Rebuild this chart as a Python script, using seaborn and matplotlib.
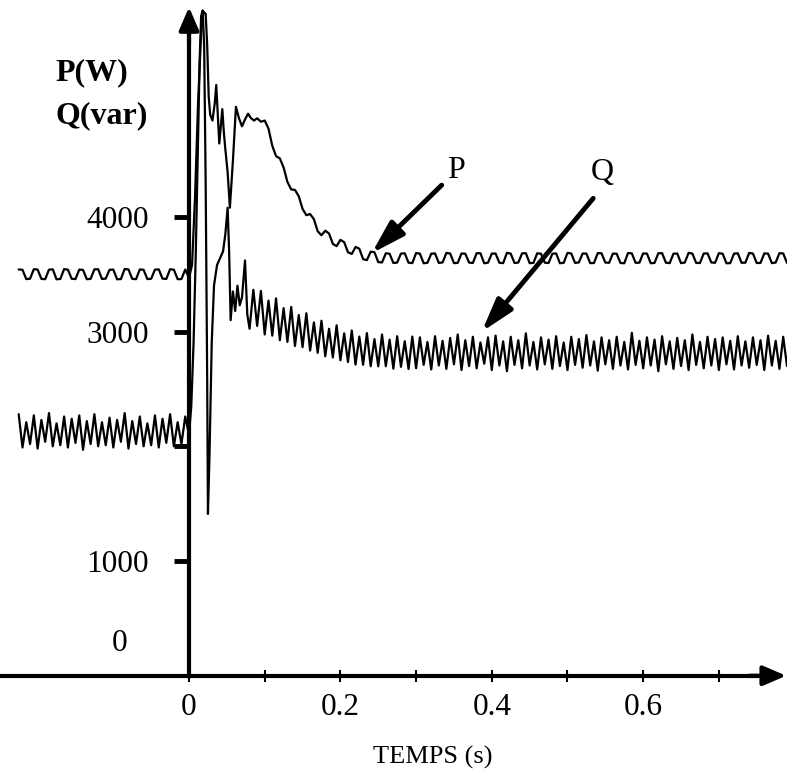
import numpy as np
import pandas as pd
import matplotlib
matplotlib.use("Agg")
import matplotlib.pyplot as plt
from matplotlib.patches import ArrowStyle
import seaborn as sns

# pas d'echantillonnage des parties "regime etabli" (s)
STEP = 0.005

# ---- P (W) ----
# avant le defaut : -0.225 s ... -0.005 s
p_pre_t0 = -0.225
p_pre = [3542, 3539, 3458, 3461, 3544, 3541, 3460, 3457, 3540, 3543, 3456, 3459,
         3545, 3540, 3461, 3458, 3541, 3538, 3457, 3460, 3543, 3544, 3459, 3462,
         3539, 3541, 3456, 3458, 3546, 3542, 3460, 3457, 3542, 3539, 3458, 3461,
         3540, 3543, 3462, 3459, 3544, 3540, 3457, 3458, 3541]
# transitoire
p_tr_t = [0.000, 0.004, 0.008, 0.012, 0.016, 0.019, 0.022, 0.024, 0.026, 0.028,
          0.031, 0.034, 0.036, 0.038, 0.040, 0.042, 0.044, 0.046, 0.048, 0.051,
          0.054, 0.058, 0.062, 0.066, 0.070, 0.074, 0.078, 0.082, 0.086, 0.090, 0.095]
p_tr = [3470, 3580, 4180, 5000, 5600, 5790, 5770, 5500, 5050, 4890,
        4840, 4990, 5150, 4890, 4640, 4790, 4940, 4740, 4590, 4390,
        4080, 4490, 4960, 4860, 4790, 4850, 4900, 4860, 4840, 4860, 4830]
# retour au regime etabli : 0.100 s ... 0.790 s
p_post_t0 = 0.100
p_post = [4840, 4770, 4620, 4530, 4510, 4430, 4305, 4240, 4235, 4180, 4070, 4015,
          4025, 3980, 3875, 3840, 3880, 3855, 3765, 3745, 3800, 3780, 3692, 3677,
          3738, 3723, 3632, 3623, 3697, 3692, 3606, 3603,
          3683, 3679, 3598, 3602, 3680, 3683, 3601, 3597, 3685, 3680, 3596, 3600,
          3679, 3682, 3599, 3603, 3686, 3681, 3597, 3599, 3681, 3679, 3602, 3598,
          3684, 3683, 3596, 3601, 3680, 3681, 3600, 3597, 3687, 3680, 3598, 3602,
          3682, 3684, 3597, 3599, 3683, 3679, 3601, 3598, 3679, 3682, 3596, 3600,
          3686, 3681, 3599, 3603, 3681, 3680, 3597, 3598, 3684, 3683, 3602, 3600,
          3680, 3679, 3598, 3596, 3685, 3682, 3600, 3601, 3682, 3680, 3596, 3599,
          3683, 3684, 3601, 3597, 3679, 3681, 3597, 3602, 3687, 3680, 3599, 3598,
          3681, 3682, 3603, 3600, 3684, 3679, 3596, 3597, 3680, 3683, 3600, 3601,
          3686, 3681, 3598, 3599, 3682, 3680, 3597, 3602, 3684, 3681, 3599]

# ---- Q (var) ----
q_pre_t0 = -0.225
q_pre = [2280, 1990, 2210, 2020, 2270, 1980, 2230, 2040, 2290, 2000, 2200, 2010,
         2260, 1990, 2240, 2030, 2270, 1970, 2220, 2020, 2280, 2000, 2210, 2010,
         2250, 1990, 2230, 2040, 2290, 1980, 2220, 2020, 2260, 2000, 2200, 2010,
         2270, 1990, 2240, 2030, 2280, 2000, 2210, 2020, 2260]
q_tr_t = [0.000, 0.003, 0.006, 0.009, 0.012, 0.014, 0.016, 0.018, 0.020, 0.022,
          0.024, 0.025, 0.027, 0.030, 0.033, 0.037, 0.041, 0.045, 0.048, 0.051,
          0.053, 0.055, 0.058, 0.061, 0.064, 0.067, 0.070, 0.074, 0.077]
q_tr = [2100, 2350, 2900, 3700, 4700, 5350, 5750, 5800, 5500, 4300,
        2600, 1410, 1900, 2900, 3400, 3580, 3640, 3700, 3850, 4080,
        3700, 3100, 3350, 3180, 3400, 3230, 3300, 3620, 3150]
q_post_t0 = 0.080
q_post = [3025, 3365, 3050, 3355, 2975, 3270, 2965, 3290, 2925, 3205, 2910, 3215,
          2875, 3145, 2865, 3160, 2835, 3080, 2815, 3095, 2785, 3025, 2775, 3055,
          2750, 2985, 2735, 3010, 2713, 2957, 2711, 2987, 2698, 2935, 2697, 2975,
          2698, 2930, 2677, 2960, 2693, 2916, 2674, 2957, 2681,
          2950, 2710, 2910, 2670, 2960, 2705, 2920, 2675, 2945, 2715, 2975, 2665,
          2925, 2700, 2955, 2680, 2905, 2720, 2950, 2665, 2965, 2705, 2915, 2655,
          2955, 2710, 2925, 2680, 2985, 2705, 2910, 2670, 2950, 2715, 2930, 2675,
          2960, 2700, 2905, 2665, 2955, 2710, 2935, 2685, 2970, 2705, 2915, 2660,
          2950, 2715, 2925, 2675, 2955, 2705, 2910, 2670, 2990, 2710, 2920, 2680,
          2950, 2705, 2930, 2655, 2960, 2715, 2915, 2675, 2945, 2700, 2925, 2665,
          2975, 2710, 2910, 2680, 2955, 2705, 2935, 2665, 2950, 2715, 2920, 2670,
          2960, 2705, 2915, 2685, 2950, 2710, 2925, 2665, 2965, 2705, 2920, 2675,
          2955, 2700]

xticks = [0, 0.2, 0.4, 0.6]
xtick_labels = ["0", "0.2", "0.4", "0.6"]
xminor = [0.1, 0.3, 0.5, 0.7]
yticks = [1000, 2000, 3000, 4000]
ytick_labels = ["1000", "", "3000", "4000"]


def serie(name, t0_pre, pre, tr_t, tr, t0_post, post):
    t = np.concatenate([t0_pre + STEP * np.arange(len(pre)), tr_t,
                        t0_post + STEP * np.arange(len(post))])
    v = np.concatenate([pre, tr, post])
    return pd.DataFrame({"t": t, "v": v, "serie": name})


df = pd.concat([serie("P", p_pre_t0, p_pre, p_tr_t, p_tr, p_post_t0, p_post),
                serie("Q", q_pre_t0, q_pre, q_tr_t, q_tr, q_post_t0, q_post)],
               ignore_index=True)

sns.set_style("white")
plt.rcParams["font.family"] = ["Liberation Serif", "DejaVu Serif"]
plt.rcParams["text.color"] = "black"

fig = plt.figure(figsize=(7.87, 7.76), dpi=100)
ax = fig.add_axes([0, 0, 1, 1])
ax.set_facecolor("white")

sns.lineplot(data=df, x="t", y="v", hue="serie", palette={"P": "black", "Q": "black"},
             estimator=None, sort=False, legend=False, lw=1.6, ax=ax)

xmin, xmax = -0.2497, 0.790
ax.set_xlim(xmin, xmax)
ax.set_ylim(-874, 5891)
ax.set_xlabel("")
ax.set_ylabel("")

# axes en croix avec fleches
ax.spines[["top", "right"]].set_visible(False)
ax.spines["left"].set_position(("data", 0))
ax.spines["bottom"].set_position(("data", 0))
ax.spines["left"].set_bounds(0, 5600)
ax.spines["bottom"].set_bounds(xmin, 0.77)
for s in ("left", "bottom"):
    ax.spines[s].set_linewidth(3)
    ax.spines[s].set_color("black")

head = ArrowStyle("-|>", head_length=0.7, head_width=0.3)
ax.annotate("", xy=(0, 5830), xytext=(0, 5500),
            arrowprops=dict(arrowstyle=head, mutation_scale=20, lw=3, color="black",
                            shrinkA=0, shrinkB=0))
ax.annotate("", xy=(0.789, 0), xytext=(0.74, 0),
            arrowprops=dict(arrowstyle=head, mutation_scale=20, lw=3, color="black",
                            shrinkA=0, shrinkB=0))

ax.set_xticks(xticks, labels=xtick_labels, fontsize=22.5)
ax.set_xticks(xminor, minor=True)
ax.tick_params(axis="x", which="both", bottom=True, direction="inout", length=8,
               width=1.5, pad=8.5, color="black", labelcolor="black")
ax.set_yticks(yticks, labels=ytick_labels, fontsize=22.5)
ax.tick_params(axis="y", which="major", left=True, direction="out", length=11,
               width=3.5, pad=18, color="black", labelcolor="black")
ax.text(-0.0911, 285, "0", fontsize=22.5, ha="center", va="center")

ax.text(-0.177, 5194, "P(W)", fontsize=23, fontweight="bold", ha="left", va="baseline")
ax.text(-0.177, 4818, "Q(var)", fontsize=23, fontweight="bold", ha="left", va="baseline")

# reperes des courbes
arrow = ArrowStyle("-|>", head_length=1.0, head_width=0.3)
ax.annotate("", xy=(0.2413, 3683), xytext=(0.3338, 4277),
            arrowprops=dict(arrowstyle=arrow, mutation_scale=20, lw=3.5, color="black",
                            shrinkA=0, shrinkB=0))
ax.annotate("", xy=(0.3867, 2999), xytext=(0.534, 4162),
            arrowprops=dict(arrowstyle=arrow, mutation_scale=20, lw=3.5, color="black",
                            shrinkA=0, shrinkB=0))
ax.text(0.3527, 4338, "P", fontsize=23, ha="center", va="baseline")
ax.text(0.5456, 4321, "Q", fontsize=23, ha="center", va="baseline")

fig.text(433 / 787, 1 - 757 / 776, "TEMPS (s)", fontsize=19, ha="center", va="center")

fig.savefig("out.png", dpi=100, facecolor="white")
